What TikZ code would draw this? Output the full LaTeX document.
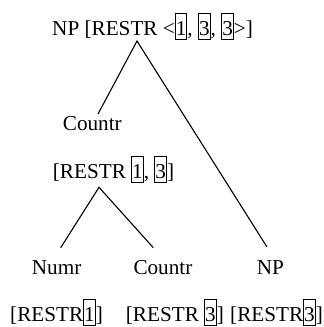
\documentclass[tikz,border=0pt]{standalone}
\usepackage{fontspec}
\setmainfont{Liberation Serif}
\setlength{\fboxsep}{0pt}
\setlength{\fboxrule}{1pt}
\newcommand\bx[1]{\fbox{\rule[-4.3pt]{0pt}{25.3pt}#1}}
\tikzset{
  lbl/.style={inner sep=0pt, anchor=base west, font=\fontsize{21.2}{25}\selectfont},
  edge/.style={line width=1.1pt}
}
\begin{document}
\begin{tikzpicture}[x=1pt,y=-1pt]
\useasboundingbox (0,0) rectangle (324,327);
\node[lbl] (top) at (52,35) {NP [RESTR <\bx{1}, \bx{3}, \bx{3}>]};
\node[lbl] (countrA) at (62.7,130) {Countr};
\node[lbl] (restrA) at (52.7,178) {[RESTR \bx{1}, \bx{3}]};
\node[lbl] (numr) at (31.7,274) {Numr};
\node[lbl] (countrB) at (133.3,274) {Countr};
\node[lbl] (np) at (256.7,274) {NP};
\node[lbl] (rA) at (10,321) {[RESTR\bx{1}]};
\node[lbl] (rB) at (125.7,321) {[RESTR \bx{3}]};
\node[lbl] (rC) at (230,321) {[RESTR\bx{3}]};
\coordinate (apexA) at (137,41);
\coordinate (countrAtop) at (98,114);
\coordinate (nptop) at (267,247);
\coordinate (apexB) at (99,187.3);
\coordinate (numrtop) at (60.7,247.7);
\coordinate (countrBtop) at (153.3,247.7);
\draw[edge] (countrAtop) -- (apexA) -- (nptop);
\draw[edge] (numrtop) -- (apexB) -- (countrBtop);
\end{tikzpicture}
\end{document}
